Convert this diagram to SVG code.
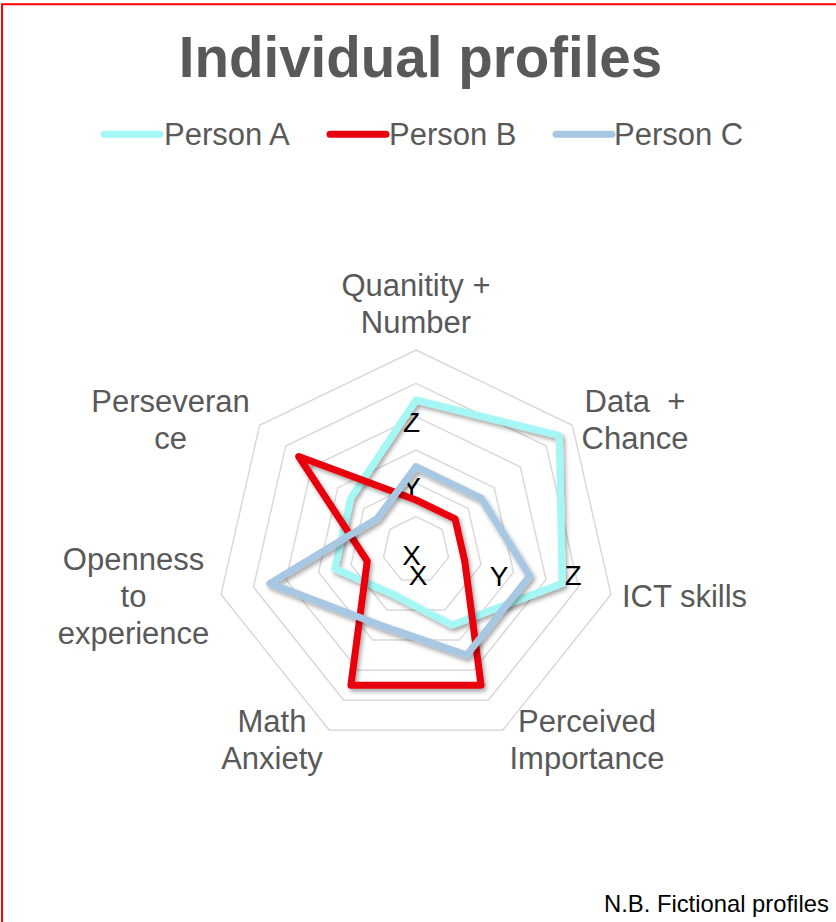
<svg xmlns="http://www.w3.org/2000/svg" width="836" height="922" viewBox="0 0 836 922">
  <defs>
    <style>
      .lbl { font-family: "Liberation Sans", Arial, sans-serif; font-size: 31px; fill: #595959; text-anchor: middle; }
      .leg { font-family: "Liberation Sans", Arial, sans-serif; font-size: 31px; fill: #595959; }
      .tick { font-family: "Liberation Sans", Arial, sans-serif; font-size: 28px; fill: #000000; text-anchor: middle; }
      .ring { fill: none; stroke: #D9D9D9; stroke-width: 1.5; }
      .series { fill: none; stroke-width: 7; stroke-linejoin: round; stroke-linecap: round; filter: url(#shadow); }
      .legline { stroke-width: 7; stroke-linecap: round; }
    </style>
    <filter id="shadow" x="-20%" y="-20%" width="140%" height="140%">
      <feDropShadow dx="2" dy="3" stdDeviation="2" flood-color="#000000" flood-opacity="0.35"/>
    </filter>
  </defs>

  <rect x="0" y="0" width="836" height="922" fill="#FFFFFF"/>

  <g id="border">
    <path d="M2,922 V4.2 H836" fill="none" stroke="#FF0000" stroke-width="2"/>
  </g>

  <g id="title">
    <text x="420.5" y="77" font-family="'Liberation Sans', Arial, sans-serif" font-size="56.5" font-weight="bold" fill="#595959" text-anchor="middle">Individual profiles</text>
  </g>

  <g id="legend">
    <g id="legend-a">
      <line class="legline" x1="104" y1="134.3" x2="160" y2="134.3" stroke="#A5F7F6"/>
      <text class="leg" x="164" y="145">Person A</text>
    </g>
    <g id="legend-b">
      <line class="legline" x1="330" y1="134.3" x2="386" y2="134.3" stroke="#E8000F"/>
      <text class="leg" x="389" y="145">Person B</text>
    </g>
    <g id="legend-c">
      <line class="legline" x1="556" y1="134.3" x2="612" y2="134.3" stroke="#A7C7E2"/>
      <text class="leg" x="614" y="145">Person C</text>
    </g>
  </g>

  <g id="grid">
    <polygon class="ring" points="416,516.67 442.06,529.22 448.5,557.42 430.46,580.03 401.54,580.03 383.5,557.42 389.94,529.22"/>
    <polygon class="ring" points="416,483.33 468.12,508.43 481,564.83 444.93,610.06 387.07,610.06 351,564.83 363.88,508.43"/>
    <polygon class="ring" points="416,450 494.18,487.65 513.49,572.25 459.39,640.1 372.61,640.1 318.51,572.25 337.82,487.65"/>
    <polygon class="ring" points="416,416.67 520.24,466.87 545.99,579.67 473.85,670.13 358.15,670.13 286.01,579.67 311.76,466.87"/>
    <polygon class="ring" points="416,383.33 546.31,446.08 578.49,587.09 488.31,700.16 343.69,700.16 253.51,587.09 285.69,446.08"/>
    <polygon class="ring" points="416,350 572.37,425.3 610.99,594.5 502.78,730.19 329.22,730.19 221.01,594.5 259.63,425.3"/>
  </g>

  <g id="axis-labels">
    <g id="axis-quantity">
      <text class="lbl" x="416" y="296">Quanitity +</text>
      <text class="lbl" x="416" y="333">Number</text>
    </g>
    <g id="axis-data">
      <text class="lbl" x="635" y="412" xml:space="preserve">Data  +</text>
      <text class="lbl" x="635" y="448.5">Chance</text>
    </g>
    <g id="axis-ict">
      <text class="lbl" x="684.5" y="607">ICT skills</text>
    </g>
    <g id="axis-perceived">
      <text class="lbl" x="587" y="732">Perceived</text>
      <text class="lbl" x="587" y="768.5">Importance</text>
    </g>
    <g id="axis-anxiety">
      <text class="lbl" x="272" y="732">Math</text>
      <text class="lbl" x="272" y="768.5">Anxiety</text>
    </g>
    <g id="axis-openness">
      <text class="lbl" x="133.5" y="570">Openness</text>
      <text class="lbl" x="133.5" y="607">to</text>
      <text class="lbl" x="133.5" y="643.5">experience</text>
    </g>
    <g id="axis-perseverance">
      <text class="lbl" x="170.5" y="412">Perseveran</text>
      <text class="lbl" x="170.5" y="448.5">ce</text>
    </g>
  </g>

  <g id="tick-labels">
    <text class="tick" x="411.5" y="565">X</text>
    <text class="tick" x="418" y="585">X</text>
    <text class="tick" x="499" y="586">Y</text>
    <text class="tick" x="573" y="585">Z</text>
    <text class="tick" x="411.5" y="497">Y</text>
    <text class="tick" x="411.5" y="432">Z</text>
  </g>

  <g id="connectors">
    <polygon id="series-a" class="series" stroke="#A5F7F6" points="416,400 559.34,435.69 562.24,583.38 452.16,625.08 394.31,595.05 334.76,568.54 350.85,498.04"/>
    <polygon id="series-b" class="series" stroke="#E8000F" points="416,500 455.09,518.83 464.75,561.13 481.08,685.15 350.92,685.15 367.25,561.13 298.73,456.48"/>
    <polygon id="series-c" class="series" stroke="#A7C7E2" points="416,466.67 481.15,498.04 529.74,575.96 466.62,655.11 379.84,625.08 269.76,583.38 376.91,518.83"/>
  </g>

  <g id="footer">
    <text x="604" y="911.5" font-family="'Liberation Sans', Arial, sans-serif" font-size="23.8" fill="#000000">N.B. Fictional profiles</text>
  </g>
</svg>
